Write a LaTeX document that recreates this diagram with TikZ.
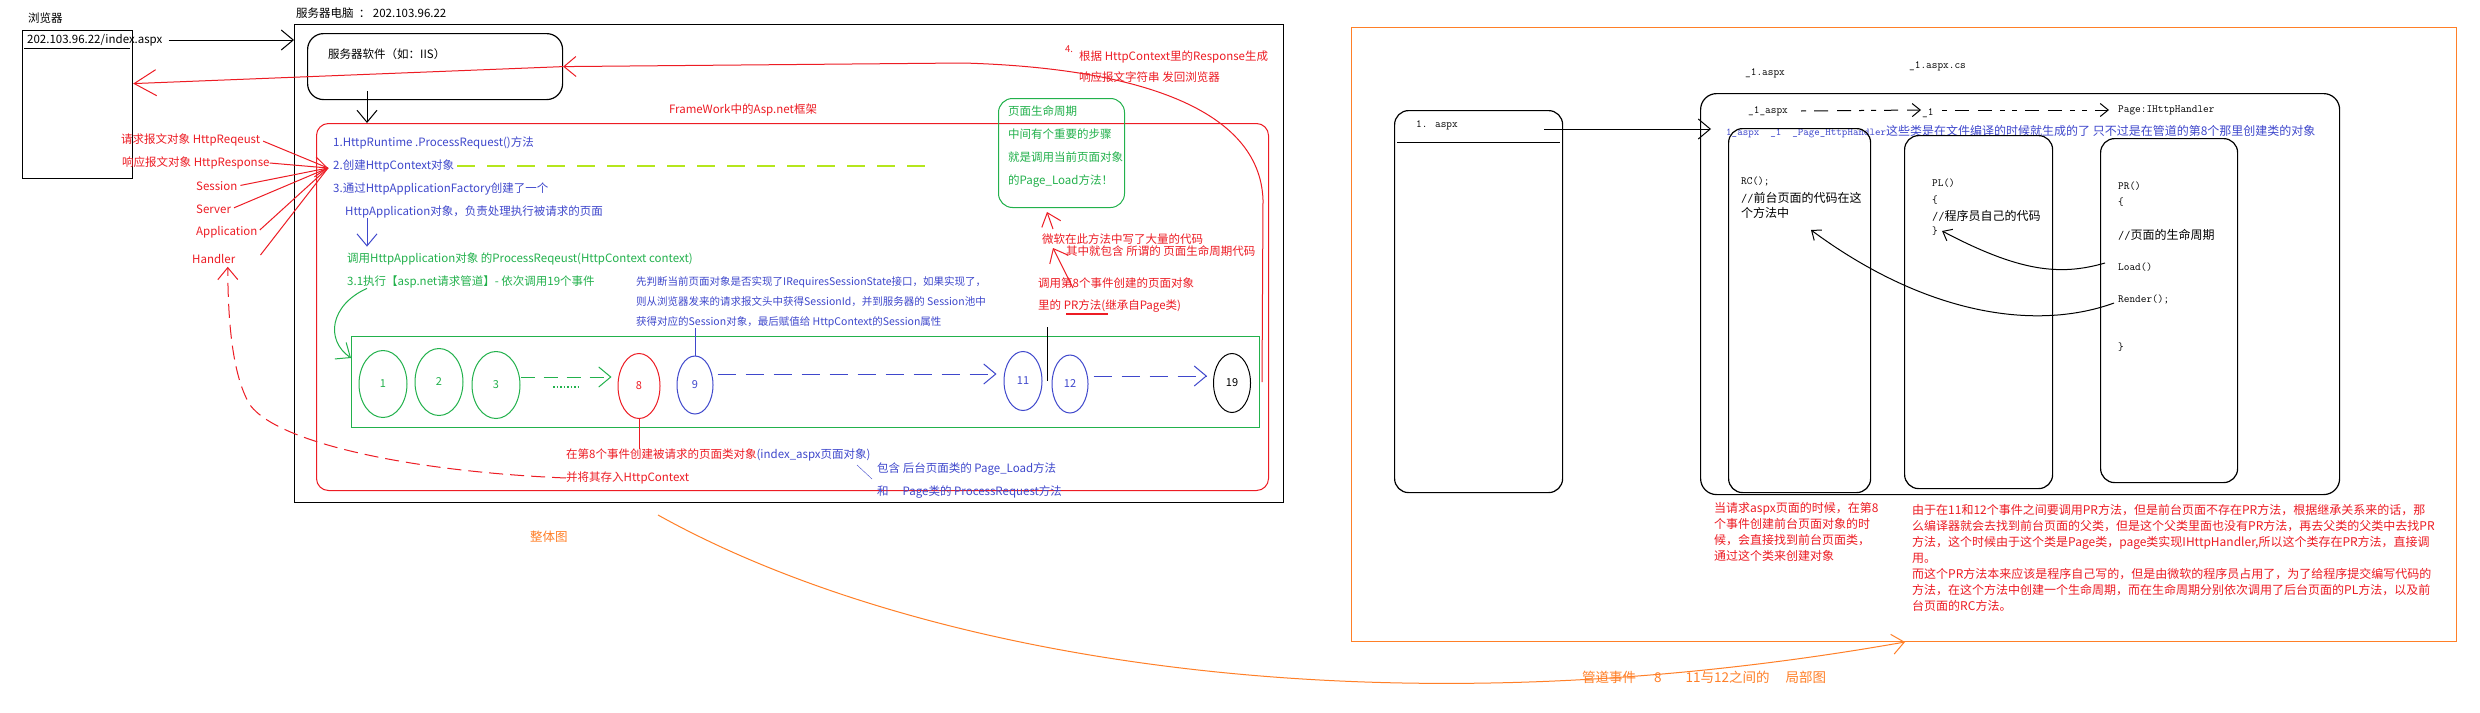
\documentclass[tikz,border=0pt]{standalone}
\usepackage{fontspec}
\setmainfont{Noto Sans CJK SC}
\usetikzlibrary{positioning,shapes.geometric,arrows.meta,calc}
\definecolor{mred}{RGB}{237,28,36}
\definecolor{mblue}{RGB}{63,72,204}
\definecolor{mgreen}{RGB}{34,177,76}
\definecolor{ygreen}{RGB}{181,230,29}
\definecolor{morange}{RGB}{255,127,39}
\tikzset{
  box/.style={draw, inner sep=0pt, anchor=north west, line width=1.2pt},
  txt/.style={anchor=west, inner sep=0pt, font=\fontsize{11.5}{14}\selectfont},
  rtxt/.style={txt, text=mred},
  btxt/.style={txt, text=mblue},
  gtxt/.style={txt, text=mgreen},
  tt/.style={anchor=west, inner sep=0pt, font=\fontsize{11}{13}\selectfont\ttfamily},
  ct/.style={anchor=west, inner sep=0pt, font=\fontsize{12}{14}\selectfont},
  note/.style={anchor=north west, inner sep=0pt, align=left, text=mred, font=\fontsize{12}{16}\selectfont},
  evt/.style={ellipse, draw, inner sep=0pt, line width=1pt, font=\fontsize{11}{13}\selectfont},
  arr/.style={line width=1pt, -{Straight Barb[length=12pt,width=20pt,line width=1pt]}},
  smallarr/.style={line width=1pt, -{Straight Barb[length=8pt,width=13pt,line width=1pt]}}
}
\begin{document}
\begin{tikzpicture}[x=1pt,y=-1pt]
\fill[white] (0,0) rectangle (2480,712);
\useasboundingbox (0,0) rectangle (2480,712);

\node[txt] (browserlbl) at (28,18) {浏览器};
\node[box, minimum width=110pt, minimum height=148pt] (browser) at (22,30) {};
\node[txt] (url) at (27,40) {202.103.96.22/index.aspx};
\draw[line width=1pt] (24,48) -- (130,48);

\node[txt] (serverlbl) at (296,13) {服务器电脑 \ ：\ 202.103.96.22};
\node[box, minimum width=989pt, minimum height=478pt] (server) at (294,24) {};
\draw[arr, shorten <=6pt] (url.east) -- (url.east -| server.west);

\node[box, rounded corners=16pt, minimum width=255pt, minimum height=66pt] (iis) at (307,33) {};
\node[txt] (iislbl) at (328,54) {服务器软件（如：IIS）};

\node[box, draw=mred, line width=1pt, rounded corners=12pt, minimum width=952pt, minimum height=367pt] (fw) at (316,123) {};
\node[rtxt, anchor=center] (fwlbl) at (743,110) {FrameWork中的Asp.net框架};
\coordinate (iisout) at (367,91);
\draw[arr] (iisout) -- (iisout |- fw.north);

\node[btxt] (s1) at (333,143) {1.HttpRuntime .ProcessRequest()方法};
\node[btxt] (s2) at (333,166) {2.创建HttpContext对象};
\node[btxt] (s3) at (333,189) {3.通过HttpApplicationFactory创建了一个};
\node[btxt] (s3b) at (345,212) {HttpApplication对象，负责处理执行被请求的页面};
\node[gtxt] (g1) at (347,259) {调用HttpApplication对象 的ProcessReqeust(HttpContext context)};
\node[gtxt] (g2) at (347,282) {3.1执行【asp.net请求管道】- 依次调用19个事件};
\draw[arr, mblue, shorten >=6pt] (s3b.south -| iisout) -- (g1.north -| iisout);
\draw[ygreen, line width=1.5pt, dash pattern=on 18pt off 12pt] ([xshift=3pt]s2.east) -- ++(475,0);

\node[rtxt] (req) at (121,140) {请求报文对象 HttpReqeust};
\node[rtxt] (resp) at (122,163) {响应报文对象 HttpResponse};
\node[rtxt] (sess) at (196,186) {Session};
\node[rtxt] (serv) at (196,209) {Server};
\node[rtxt] (app) at (196,232) {Application};
\node[rtxt] (handler) at (192,259) {Handler};
\coordinate (ctxin) at (328,168);
\foreach \n in {req,sess,serv,app}
  \draw[mred, line width=1pt, shorten <=3pt] (\n.east) -- (ctxin);
\draw[mred, line width=1pt] ([xshift=25pt,yshift=4pt]handler.east) -- (ctxin);
\draw[arr, mred] (resp.east) -- (ctxin);

\node[box, draw=mgreen, line width=1pt, minimum width=908pt, minimum height=91pt] (pipe) at (351,336) {};
\draw[arr, mgreen] ($(g2.south west)+(20,0)$) .. controls (330,305) and (325,340) .. ($(pipe.north west)+(0,22)$);

\foreach \n/\x/\y in {1/383/384,2/439/382,3/496/385}
  \node[evt, draw=mgreen, text=mgreen, minimum width=48pt, minimum height=67pt] (e\n) at (\x,\y) {\n};
\node[evt, draw=mred, text=mred, minimum width=42pt, minimum height=65pt] (e8) at (639,386) {8};
\node[evt, draw=mblue, text=mblue, minimum width=36pt, minimum height=58pt] (e9) at (695,385) {9};
\node[evt, draw=mblue, text=mblue, minimum width=38pt, minimum height=59pt] (e11) at (1023,381) {11};
\node[evt, draw=mblue, text=mblue, minimum width=36pt, minimum height=58pt] (e12) at (1070,384) {12};
\node[evt, minimum width=37pt, minimum height=59pt] (e19) at (1232,383) {19};
\draw[arr, mgreen, dash pattern=on 14pt off 9pt] ([yshift=8pt]e3.east) -- ([yshift=9pt,xshift=-6pt]e8.west);
\draw[mgreen, line width=1.5pt, dotted] (553,387) -- (580,387);
\draw[arr, mblue, dash pattern=on 18pt off 10pt] ([yshift=11pt,xshift=4pt]e9.east) -- ([yshift=7pt,xshift=-7pt]e11.west);
\draw[arr, mblue, dash pattern=on 18pt off 10pt] ([yshift=8pt,xshift=5pt]e12.east) -- ([yshift=7pt,xshift=-6pt]e19.west);

\node[rtxt] (t8) at (566,455) {在第8个事件创建被请求的页面类对象\textcolor{mblue}{ (index\_aspx页面对象)}};
\node[rtxt] (t8b) at (566,478) {并将其存入HttpContext};
\draw[mred, line width=1pt] (e8.south) -- (e8.south |- t8.north);
\draw[arr, mred, dash pattern=on 14pt off 7pt] (t8b.west) .. controls (420,472) and (280,445) .. (250,405) .. controls (232,375) and (228,320) .. ([xshift=14pt,yshift=-3pt]handler.south);

\node[btxt] (pl1) at (877,469) {包含 后台页面类的 Page\_Load方法};
\node[btxt] (pl2) at (877,492) {和\hspace{14pt}Page类的 ProcessRequest方法};
\draw[mblue] ([xshift=-20pt,yshift=4pt]pl1.west) -- ([xshift=-5pt,yshift=-10pt]pl1.west);

\node[btxt, font=\fontsize{10.5}{12}\selectfont] (b1) at (636,282) {先判断当前页面对象是否实现了IRequiresSessionState接口，如果实现了，};
\node[btxt, font=\fontsize{10.5}{12}\selectfont] (b2) at (636,302) {则从浏览器发来的请求报文头中获得SessionId，并到服务器的 Session池中};
\node[btxt, font=\fontsize{10.5}{12}\selectfont] (b3) at (636,322) {获得对应的Session对象，最后赋值给 HttpContext的Session属性};
\draw[mblue, line width=1pt] (e9.north) -- (e9.north |- b3.south);

\node[box, draw=mgreen, line width=1pt, rounded corners=14pt, minimum width=126pt, minimum height=109pt] (life) at (998,98) {};
\node[gtxt, anchor=north west, align=left, font=\fontsize{11.5}{23}\selectfont] (lifetxt) at (1008,105) {页面生命周期\\中间有个重要的步骤\\就是调用当前页面对象\\的Page\_Load方法！};

\node[rtxt] (ms1) at (1042,239) {微软在此方法中写了大量的代码};
\node[rtxt] (ms2) at (1066,251) {其中就包含 所谓的 页面生命周期代码};
\draw[arr, mred] ($(ms1.west)+(11,-10)$) -- ($(life.south west)+(49,4)$);
\node[rtxt] (pr1) at (1038,283) {调用第8个事件创建的页面对象};
\node[rtxt] (pr2) at (1038,306) {里的 PR方法(继承自Page类)};
\draw[mred, line width=2.5pt] ($(pr2.west)+(28,8)$) -- ++(42,0);
\draw[arr, mred] ($(pr1.west)+(35,5)$) -- ($(ms2.west)+(-13,-3)$);
\coordinate (prlink) at (1047,327);
\draw[line width=1pt] (prlink) -- (prlink |- e11.center);

\node[rtxt, font=\fontsize{9.5}{11}\selectfont] (s4n) at (1065,49) {4.};
\node[rtxt] (s4a) at (1079,57) {根据 HttpContext里的Response生成};
\node[rtxt] (s4b) at (1079,77) {响应报文字符串 发回浏览器};
\coordinate (resp0) at (1262,382);
\draw[arr, mred] (resp0) -- (1263,200) .. controls (1260,110) and (1140,68) .. (963,63) -- (iis.east);
\draw[mred, line width=1pt, -{Straight Barb[length=22pt,width=26pt,line width=1pt]}] (iis.east) -- ([yshift=21pt]browser.east);

\node[txt, text=morange, font=\fontsize{12.5}{14}\selectfont] (overall) at (530,537) {整体图};
\node[box, draw=morange, line width=1pt, minimum width=1105pt, minimum height=614pt] (detail) at (1351,27) {};
\coordinate (ovstart) at (658,515);
\draw[arr, morange] (ovstart) .. controls (900,650) and (1350,740) .. ($(detail.south west)+(554,0)$);
\node[txt, text=morange, font=\fontsize{13.5}{15}\selectfont] (detaillbl) at (1582,677) {管道事件\hspace{18pt}8\hspace{24pt}11与12之间的\hspace{16pt}局部图};

\node[box, rounded corners=14pt, minimum width=168pt, minimum height=382pt] (page1) at (1394,110) {};
\node[tt] (page1lbl) at (1416,125) {1. aspx};
\draw[line width=1pt] (1397,142) -- (1560,142);
\node[box, rounded corners=16pt, minimum width=639pt, minimum height=401pt] (cls) at (1700,93) {};
\draw[arr] ([xshift=-19pt,yshift=-19pt]page1.north east) -- ([xshift=11pt,yshift=-36pt]cls.north west);

\node[tt] (lbl1) at (1745,73) {\_1.aspx};
\node[tt] (lbl2) at (1909,66) {\_1.aspx.cs};
\node[tt] (c1) at (1748,111) {\_1\_aspx};
\node[tt] (c2) at (1922,113) {\_1};
\node[tt] (c3) at (2118,110) {Page:IHttpHandler};
\draw[smallarr, dash pattern=on 5pt off 8pt on 14pt off 9pt on 14pt off 8pt on 5pt off 7pt] ([xshift=13pt]c1.east) -- ([xshift=-1pt,yshift=3pt]c2.west);
\draw[smallarr, dash pattern=on 5pt off 8pt on 14pt off 9pt on 14pt off 8pt on 5pt off 7pt] ([xshift=8pt,yshift=3pt]c2.east) -- ([xshift=-9pt]c3.west);

\node[btxt, font=\fontsize{12}{14}\selectfont] (gen) at (1726,132) {{\ttfamily\fontsize{10.5}{12}\selectfont 1\_aspx\ \ \_1\ \ \_Page\_HttpHandler}这些类是在文件编译的时候就生成的了 只不过是在管道的第8个那里创建类的对象};

\node[box, rounded corners=14pt, minimum width=142pt, minimum height=364pt] (rcbox) at (1728,128) {};
\node[box, rounded corners=14pt, minimum width=148pt, minimum height=353pt] (plbox) at (1904,135) {};
\node[box, rounded corners=14pt, minimum width=137pt, minimum height=344pt] (prbox) at (2100,138) {};

\node[tt] (rchead) at (1741,181) {RC();};
\node[ct] (rccmt) at (1741,198) {{\ttfamily //}前台页面的代码在这};
\node[ct] (rccmt2) at (1741,213) {个方法中};
\node[tt] (plhead) at (1932,183) {PL()};
\node[tt] (plopen) at (1932,200) {\{};
\node[ct] (plcmt) at (1932,216) {{\ttfamily //}程序员自己的代码};
\node[tt] (plclose) at (1932,231) {\}};
\node[tt] (prhead) at (2118,186) {PR()};
\node[tt] (propen) at (2118,202) {\{};
\node[ct] (prcmt) at (2118,235) {{\ttfamily //}页面的生命周期};
\node[tt] (load) at (2118,267) {Load()};
\node[tt] (render) at (2118,299) {Render();};
\node[tt] (prclose) at (2118,347) {\}};
\draw[smallarr] ([xshift=-13pt,yshift=4pt]load.west) .. controls (2060,276) and (2020,272) .. ([xshift=4pt]plclose.east);
\draw[smallarr] ([xshift=-4pt,yshift=-4pt]render.west) .. controls (2040,330) and (1930,318) .. ([xshift=70pt,yshift=-17pt]rccmt2.west);

\node[note] (note1) at (1714,502) {当请求aspx页面的时候，在第8\\个事件创建前台页面对象的时\\候，会直接找到前台页面类，\\通过这个类来创建对象};
\node[note] (note2) at (1912,504) {由于在11和12个事件之间要调用PR方法，但是前台页面不存在PR方法，根据继承关系来的话，那\\么编译器就会去找到前台页面的父类，但是这个父类里面也没有PR方法，再去父类的父类中去找PR\\方法，这个时候由于这个类是Page类，page类实现IHttpHandler,所以这个类存在PR方法，直接调\\用。\\而这个PR方法本来应该是程序自己写的，但是由微软的程序员占用了，为了给程序提交编写代码的\\方法，在这个方法中创建一个生命周期，而在生命周期分别依次调用了后台页面的PL方法，以及前\\台页面的RC方法。};
\end{tikzpicture}
\end{document}
